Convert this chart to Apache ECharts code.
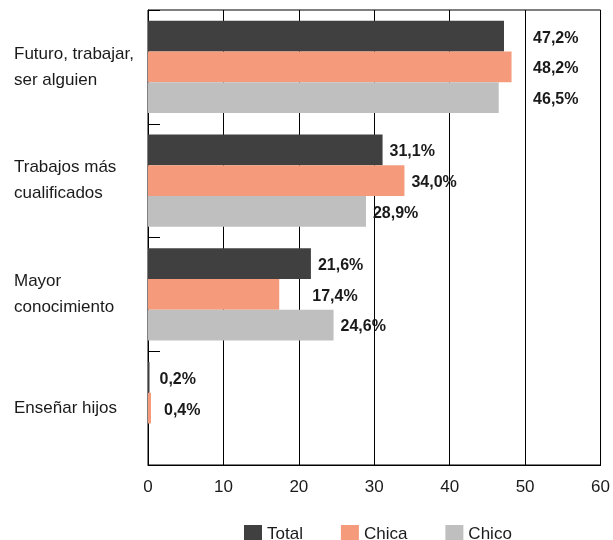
<!DOCTYPE html>
<html>
<head>
<meta charset="utf-8">
<script src="https://cdn.jsdelivr.net/npm/echarts@6/dist/echarts.min.js"></script>
<style>
  html, body { margin: 0; padding: 0; background: #fff; }
  #chart { width: 613px; height: 540px; }
</style>
</head>
<body>
<div id="chart"></div>
<script>
// data
const categories = ['Futuro, trabajar,\nser alguien', 'Trabajos más\ncualificados', 'Mayor\nconocimiento', 'Enseñar hijos'];
const totalValues = [47.2, 31.1, 21.6, 0.2];
const chicaValues = [48.2, 34.0, 17.4, 0.4];
const chicoValues = [46.5, 28.9, 24.6, null];
const xTicks = { min: 0, max: 60, interval: 10 };

const colors = { total: '#404040', chica: '#f59b7c', chico: '#bfbfbf' };
const fontFamily = '"Liberation Sans", Arial, Helvetica, sans-serif';

const chart = echarts.init(document.getElementById('chart'));

function fmt(p) {
  return p.value.toFixed(1).replace('.', ',') + '%';
}

function makeSeries(name, values, color) {
  return {
    name,
    type: 'bar',
    barGap: '0%',
    barCategoryGap: '19%',
    itemStyle: { color },
    label: {
      show: true,
      position: 'right',
      distance: 7,
      formatter: fmt,
      color: '#1a1a1a',
      fontFamily,
      fontSize: 16,
      fontWeight: 'bold',
    },
    data: values.map((v) => (v === null ? null : { value: v })),
  };
}

const option = {
  animation: false,
  backgroundColor: '#fff',
  grid: {
    left: 148,
    right: 10,
    top: 10,
    bottom: 75,
    show: true,
    borderColor: '#000',
    borderWidth: 1,
  },
  legend: {
    left: 239,
    top: 520,
    icon: 'rect',
    itemWidth: 18,
    itemHeight: 18,
    itemGap: 38,
    itemTextGap: 3,
    textStyle: { fontFamily, fontSize: 17, color: '#1a1a1a' },
    data: ['Total', 'Chica', 'Chico'],
  },
  xAxis: {
    type: 'value',
    min: xTicks.min,
    max: xTicks.max,
    interval: xTicks.interval,
    axisLine: { show: true, lineStyle: { color: '#000' } },
    axisTick: { show: false },
    splitLine: { show: true, lineStyle: { color: '#000', width: 1 } },
    axisLabel: { fontFamily, fontSize: 17, color: '#1a1a1a', margin: 14 },
  },
  yAxis: {
    type: 'category',
    inverse: true,
    data: categories,
    axisLine: { show: true, lineStyle: { color: '#000' } },
    axisTick: { show: true, inside: true, length: 12, lineStyle: { color: '#000' } },
    axisLabel: {
      align: 'left',
      margin: 134,
      fontFamily,
      fontSize: 17,
      lineHeight: 26,
      color: '#1a1a1a',
    },
  },
  series: [
    makeSeries('Total', totalValues, colors.total),
    makeSeries('Chica', chicaValues, colors.chica),
    makeSeries('Chico', chicoValues, colors.chico),
  ],
};

chart.setOption(option);

// first group: labels sit just right of the 50 gridline; small nudges elsewhere
const x50 = chart.convertToPixel({ gridIndex: 0 }, [50, 0])[0];
const nudge = { 'Chica-2': 26, 'Total-3': 3, 'Chica-3': 6 };
option.series.forEach((s) => {
  s.data = s.data.map((d, i) => {
    if (!d) return d;
    const end = chart.convertToPixel({ gridIndex: 0 }, [d.value, 0])[0];
    let dx = 0;
    if (i === 0) dx = x50 + 8 - (end + 7);
    else dx = nudge[s.name + '-' + i] || 0;
    return { value: d.value, label: { offset: [dx, 2] } };
  });
});
chart.setOption(option);
</script>
</body>
</html>
